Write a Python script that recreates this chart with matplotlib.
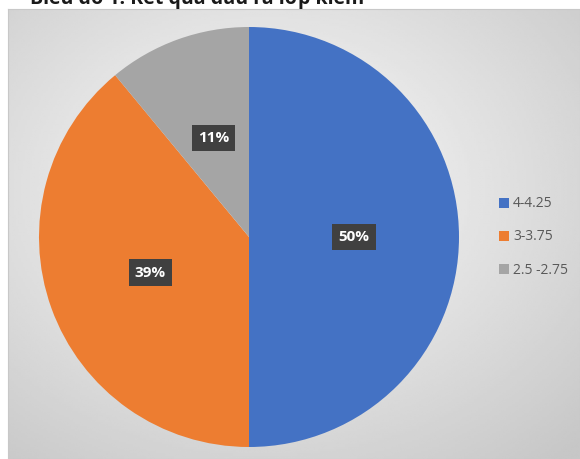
import numpy as np
import matplotlib

matplotlib.use("Agg")
import matplotlib.pyplot as plt
from matplotlib.patches import Patch

plt.rcParams["font.family"] = ["Open Sans", "DejaVu Sans"]

TITLE = "Biểu đồ 1: Kết quả đầu ra lớp kiểm"
LABELS = ["4-4.25", "3-3.75", "2.5 -2.75"]
SHARES = [50, 39, 11]
COLORS = ["#4472C4", "#ED7D31", "#A5A5A5"]

W, H = 580, 459
fig = plt.figure(figsize=(W / 100, H / 100), dpi=100)

# chart area with radial gray gradient
bg = fig.add_axes([8 / W, 0, (W - 8) / W, (H - 9) / H])
yy, xx = np.mgrid[0:1:200j, 0:1:250j]
d = np.sqrt(((xx - 0.45) / 0.75) ** 2 + ((yy - 0.6) / 0.75) ** 2)
grad = np.clip(0.99 - 0.2 * d, 0.78, 1.0)
bg.imshow(grad, cmap="gray", vmin=0, vmax=1, extent=[0, 1, 0, 1],
          origin="lower", aspect="auto", interpolation="bilinear")
bg.set_xticks([])
bg.set_yticks([])
for s in bg.spines.values():
  s.set_color("#c8c8c8")
  s.set_linewidth(0.8)

fig.text(30 / W, 1 - 4 / H, TITLE, fontsize=14, fontweight="bold",
         color="#1a1a1a", ha="left", va="baseline")

# pie
cx, cy, r = 249, 237, 210
ax = fig.add_axes([(cx - r) / W, (H - cy - r) / H, 2 * r / W, 2 * r / H])
wedges, _, autotexts = ax.pie(
  SHARES, colors=COLORS, startangle=90, counterclock=False,
  autopct=lambda p: f"{p:.0f}%", pctdistance=0.5,
  wedgeprops=dict(linewidth=0),
  textprops=dict(color="white", fontsize=11, fontweight="bold"),
)
for t in autotexts:
  t.set_bbox(dict(boxstyle="square,pad=0.4", facecolor="#404040",
                  edgecolor="none"))
ax.set_xlim(-1, 1)
ax.set_ylim(-1, 1)
ax.axis("off")

handles = [Patch(facecolor=c, edgecolor="none") for c in COLORS]
fig.legend(handles, LABELS, loc="center left",
           bbox_to_anchor=(486 / W, 1 - 237 / H), frameon=False,
           handlelength=0.75, handleheight=0.75, handletextpad=0.3,
           labelspacing=1.3, fontsize=10, labelcolor="#595959")

fig.savefig("out.png", dpi=100)
